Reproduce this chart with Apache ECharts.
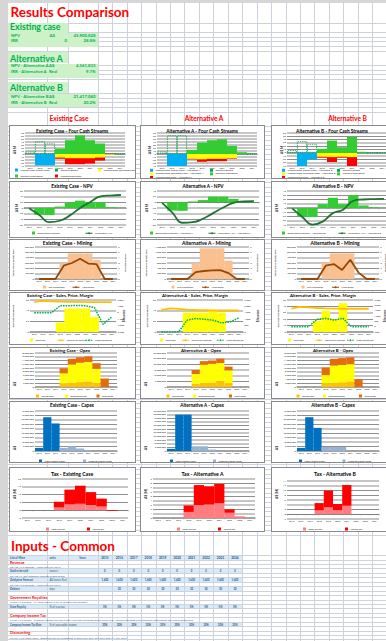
<!DOCTYPE html>
<html lang="en">
<head>
<meta charset="utf-8">
<title>Results Comparison</title>
<script src="https://cdn.jsdelivr.net/npm/echarts@6/dist/echarts.min.js"></script>
<style>
  html, body { margin: 0; padding: 0; }
  body { width: 386px; height: 641px; overflow: hidden; position: relative; background: #fff;
         font-family: Lato, "Open Sans", sans-serif; }
  .a { position: absolute; }
  .t { position: absolute; white-space: nowrap; }
  .panel { position: absolute; background: #fff; overflow: hidden; }
  .frame { position: absolute; left: 0; top: 0; right: 0; bottom: 0; border: 1.5px solid #8a8a8a;
           box-sizing: border-box; pointer-events: none; }
</style>
</head>
<body>
<script>
// ---------------- data ----------------
const years = ['2015','2016','2017','2018','2019','2020','2021','2022','2023','2024'];

// Four cash streams (A$ M)
const capCostsEx = [0,-38,-38,0,0,0,0,0,0,0];
const deficitEx  = [8,42,35,0,0,0,0,0,0,0];
const opCostsEx  = [0,0,0,-12,-14,-14,-14,-12,-2,0];
const opsCashEx  = [0,0,0,18,46,62,46,35,0,0];
const taxesEx    = [0,0,0,-4,-20,-20,-18,-10,1,0];

const capCostsA = [0,-40,-40,0,0,0,0,0,0,0];
const deficitA  = [8,62,62,0,0,0,0,0,0,0];
const opCostsA  = [0,0,0,-16,-18,-16,-16,-14,0,0];
const opsCashA  = [0,0,0,14,38,46,49,27,6,0];
const taxesA    = [0,0,0,-2,-8,-8,-8,-2,0,0];

const capCostsB = [0,-40,-20,0,0,0,0,0,0,0];
const deficitB  = [8,35,27,0,0,0,0,0,0,0];
const opCostsB  = [0,0,0,-12,-13,-12,-13,0,0,0];
const opsCashB  = [0,0,0,12,37,17,48,3,0,0];
const taxesB    = [0,0,0,-3,-15,-3,-27,0,0,0];

// NPV (A$ M)
const discCfEx = [-1,-24,-25,5,19,26,21,20,3,1];
const cumNpvEx = [-1,-25,-50,-45,-26,0,21,41,44,45.9];
const discCfA  = [-2,-29,-30,3,8,20,20,12,4,1];
const cumNpvA  = [-2,-36,-72,-70,-58,-38,-18,-2,3,4.6];
const discCfB  = [-1,-20,-21,9,24,9,30,6,2,0.4];
const cumNpvB  = [-1,-21,-39,-32,-12,-4,17,20,21,21.4];

// Mining: ore tonnes and head grade (g/t)
const oreEx   = [0,0,0,290000,480000,480000,480000,360000,0,0];
const gradeEx = [0,0,0,2.5,3.0,3.8,2.9,2.8,0,0];
const oreA    = [0,0,0,590000,1150000,1150000,1150000,690000,0,0];
const gradeA  = [0,0,0,1.3,1.5,1.6,1.65,1.1,0,0];
const oreB    = [0,0,0,300000,480000,480000,480000,0,0,0];
const gradeB  = [0,0,0,2.5,2.8,1.7,3.6,1.2,0,0];

// Sales, price, margin
const goldPrice = [1700,1850,1800,1750,1720,1700,1680,1680,1680,1680];
const soldEx   = [0,0,0,18,44,44,44,28,0,0];
const marginEx = [0,0,0,1100,1100,1150,1100,800,-1800,-650];
const soldA    = [0,0,0,36,36,36,41,36,0,0];
const marginA  = [0,0,0,920,1050,1000,920,710,790,1100];
const soldB    = [0,0,0,17,33,20,45,0,0,0];
const marginB  = [0,0,0,700,780,620,780,0,0,0];

// Opex (A$)
const miningCostEx = [0,0,0,1800000,2300000,2600000,3000000,2000000,0,0];
const procCostEx   = [0,0,0,5400000,9700000,10200000,10200000,7600000,0,0];
const fixedCostEx  = [0,0,0,2700000,2900000,2900000,3000000,3000000,4500000,0];
const miningCostA  = [0,0,0,3000000,3600000,4000000,5500000,3500000,0,0];
const procCostA    = [0,0,0,8400000,16200000,16400000,15600000,11200000,0,0];
const fixedCostA   = [0,0,0,3600000,3000000,3000000,3900000,3300000,0,0];
const miningCostB  = [0,0,0,2000000,2300000,2500000,3000000,0,0,0];
const procCostB    = [0,0,0,4300000,9000000,9200000,9100000,0,0,0];
const fixedCostB   = [0,0,0,4000000,3600000,3600000,3600000,4000000,0,0];

// Capex (A$)
const initialCapEx = [3500000,38000000,31000000,0,0,0,0,0,0,0];
const ongoingCapEx = [0,0,0,3500000,5500000,2800000,1000000,0,0,0];
const initialCapA  = [3000000,50000000,50000000,0,0,0,0,0,0,0];
const ongoingCapA  = [0,0,0,6500000,6500000,2000000,0,0,0,0];
const initialCapB  = [3500000,38000000,26000000,0,0,0,0,0,0,0];
const ongoingCapB  = [0,0,0,4500000,4500000,4500000,0,0,0,0];

// Tax (A$ M)
const royaltyEx   = [0,0,0,1.7,3.7,4.1,3.3,2.3,0,0];
const incomeTaxEx = [0,0,0,3.7,9.5,11.6,8.3,5.1,-0.5,0];
const royaltyA    = [0,0,0,1.4,3.0,3.1,3.4,1.2,0.4,0];
const incomeTaxA  = [0,0,0,1.5,4.6,4.2,4.45,0.8,0,0];
const royaltyB    = [0,0,0,1.6,2.9,1.7,3.6,0,0,0];
const incomeTaxB  = [0,0,0,3.1,7.1,2.6,8.7,0,0,0];

// Input table
const inputYears   = ['2015','2016','2017','2018','2019','2020','2021','2022','2023','2024'];
const goldToSell   = ['0','0','0','0','0','0','0','0','0','0'];
const priceInputs  = ['1,600','1,600','1,600','1,600','1,600','1,600','1,600','1,600','1,600','1,600'];
const debtorDays   = ['','30','30','30','30','30','30','30','30','30'];
const royaltyRates = ['5%','5%','5%','5%','5%','5%','5%','5%','5%','5%'];
const taxRates     = ['30%','30%','30%','30%','30%','30%','30%','30%','30%','30%'];

// ---------------- worksheet backdrop ----------------
const LINE = '#cdd3de';
function box(l, t, w, h, bg) {
  const d = document.createElement('div');
  d.className = 'a';
  d.style.cssText = `left:${l}px;top:${t}px;width:${w}px;height:${h}px;background:${bg}`;
  document.body.appendChild(d);
  return d;
}
function txt(x, base, s, size, color, bold, align) {
  const d = document.createElement('div');
  d.className = 't';
  d.textContent = s;
  d.style.fontSize = size + 'px';
  d.style.lineHeight = size + 'px';
  d.style.color = color;
  d.style.fontWeight = bold ? '700' : '400';
  d.style.top = (base - 0.887 * size) + 'px';
  if (align === 'right') { d.style.right = (386 - x) + 'px'; d.style.textAlign = 'right'; }
  else if (align === 'center') { d.style.left = (x - 60) + 'px'; d.style.width = '120px'; d.style.textAlign = 'center'; }
  else d.style.left = x + 'px';
  document.body.appendChild(d);
}

// horizontal cell borders
const skipRows = [[0, 22], [23, 31.5], [51, 63.5], [80, 92.5], [112.5, 124]];
for (let y = 22.5; y < 537; y += 4.7) {
  if (skipRows.some(([a, b]) => y > a && y < b)) continue;
  box(0, y, 386, 1, LINE);
}
const ROW0 = 555.2, ROWH = 4.43;
for (let y = ROW0; y < 641; y += ROWH) box(0, y, 386, 1, LINE);

// shaded input rows
[0, 3, 5, 7, 11, 15].forEach(i => box(8, ROW0 + 1 + i * ROWH, 234, ROWH - 1, '#d8eaf8'));

// vertical cell borders
[47, 68].forEach(x => box(x, 2.5, 1, 639, LINE));
for (let x = 97.7; x < 386; x += 14.45) box(x, 2.5, 1, 639, LINE);

// window chrome
box(0, 0, 386, 2.5, '#d6d6d6');
box(0, 0, 7.5, 641, '#d6d6d6');

// results block
const GREEN = '#00b050', GBG = '#cdf2c8';
box(8, 22.5, 60, 10, GBG); box(8, 32.5, 90, 14, GBG);
box(8, 52, 60, 11, GBG);   box(8, 63.5, 90, 14, GBG);
box(8, 82, 60, 11, GBG);   box(8, 93.5, 90, 13.5, GBG);

txt(10.5, 18.3, 'Results Comparison', 13.5, '#ff0000', true);
txt(10, 30.8, 'Existing case', 8.8, GREEN, true);
txt(11, 37.5, 'NPV', 4.3, GREEN, true);
txt(49.5, 37.5, 'A$', 4.3, GREEN, true);
txt(95.5, 37.5, '45,900,828', 4.3, GREEN, true, 'right');
txt(11, 43.3, 'IRR', 4.3, GREEN, true);
txt(67, 43.3, '0', 4.3, GREEN, true, 'right');
txt(95.5, 43.3, '28.8%', 4.3, GREEN, true, 'right');

txt(10, 61.5, 'Alternative A', 9, GREEN, true);
txt(11, 68, 'NPV - Alternative A', 4.3, GREEN, true);
txt(49, 68, 'A$', 4.3, GREEN, true);
txt(95.5, 68, '4,561,833', 4.3, GREEN, true, 'right');
txt(11, 73.8, 'IRR - Alternative A', 4.3, GREEN, true);
txt(49, 73.8, 'Real', 4.3, GREEN, true);
txt(95.5, 73.8, '9.7%', 4.3, GREEN, true, 'right');

txt(10, 91.2, 'Alternative B', 9, GREEN, true);
txt(11, 98.7, 'NPV - Alternative B', 4.3, GREEN, true);
txt(49, 98.7, 'A$', 4.3, GREEN, true);
txt(95.5, 98.7, '21,417,060', 4.3, GREEN, true, 'right');
txt(11, 104.5, 'IRR - Alternative B', 4.3, GREEN, true);
txt(49, 104.5, 'Real', 4.3, GREEN, true);
txt(95.5, 104.5, '20.2%', 4.3, GREEN, true, 'right');

txt(69, 121, 'Existing Case', 6.6, '#ff0000', true, 'center');
txt(204, 121, 'Alternative A', 6.6, '#ff0000', true, 'center');
txt(347.5, 121, 'Alternative B', 6.6, '#ff0000', true, 'center');

// inputs block
box(0, 537, 386, 18, '#fff');
box(0, 537, 7.5, 18, '#d6d6d6');
[47, 68].forEach(x => box(x, 537, 1, 18, LINE));
for (let x = 97.7; x < 386; x += 14.45) box(x, 537, 1, 18, LINE);
txt(11, 551.5, 'Inputs - Common', 13.5, '#ff0000', true);

const BLUE = '#2e5c8a';
const rowBase = i => ROW0 + 1 + i * ROWH + 3.3;
const colC = j => 104.9 + 14.45 * j;
txt(10, rowBase(0), 'Life of Mine', 2.8, BLUE, true);
txt(49.5, rowBase(0), 'units', 2.8, BLUE, true);
txt(79, rowBase(0), 'Years', 2.8, BLUE, true);
inputYears.forEach((s, j) => txt(colC(j), rowBase(0), s, 3.2, BLUE, true, 'center'));

txt(10, rowBase(1), 'Revenue', 3.8, '#ff0000', true);
txt(10, rowBase(2), '03 Aug 16 C Steinetz - "Sales Plan July 2016"', 2.6, BLUE, false);
txt(10, rowBase(3), 'Gold to be sold', 2.7, BLUE, true);
txt(49.5, rowBase(3), 'ounces', 2.7, BLUE, false);
goldToSell.forEach((s, j) => txt(colC(j), rowBase(3), s, 2.7, BLUE, true, 'center'));
txt(10, rowBase(4), '03 Aug 16 ABC Company forecast of gold prices', 2.6, BLUE, false);
txt(10, rowBase(5), 'Gold price Forecast', 2.7, BLUE, true);
txt(49.5, rowBase(5), 'A$/ounce Real', 2.7, BLUE, false);
priceInputs.forEach((s, j) => txt(colC(j), rowBase(5), s, 2.7, BLUE, true, 'center'));
txt(10, rowBase(6), '03 Aug 16 C Steinetz - "Sales Plan July 2016"', 2.6, BLUE, false);
txt(10, rowBase(7), 'Debtors', 2.7, BLUE, true);
txt(49.5, rowBase(7), 'days', 2.7, BLUE, false);
debtorDays.forEach((s, j) => s && txt(colC(j), rowBase(7), s, 2.7, BLUE, true, 'center'));

txt(10, rowBase(9), 'Government Royalties', 3.8, '#ff0000', true);
txt(10, rowBase(10), '3 June 16 E Trophy - SA State Royalty is 5% of revenue paid monthly', 2.6, BLUE, false);
txt(10, rowBase(11), 'State Royalty', 2.7, BLUE, true);
txt(49.5, rowBase(11), '% of revenue', 2.7, BLUE, false);
royaltyRates.forEach((s, j) => txt(colC(j), rowBase(11), s, 2.7, BLUE, true, 'center'));

txt(10, rowBase(13), 'Company Income Tax', 3.8, '#ff0000', true);
txt(10, rowBase(14), '3 June 16 E Trophy - Company income tax rate is 30%. The cash payment occurs in the year. Assume operating cost cashflows approximate the cost of goods sold.', 2.6, BLUE, false);
txt(10, rowBase(15), 'Company Income Tax Rate', 2.7, BLUE, true);
txt(49.5, rowBase(15), '% of assessable income', 2.7, BLUE, false);
taxRates.forEach((s, j) => txt(colC(j), rowBase(15), s, 2.7, BLUE, true, 'center'));

txt(10, rowBase(17), 'Discounting', 3.8, '#ff0000', true);
txt(10, rowBase(18), '27 July 16 E Kaiser email - Discount rate for investment in gold is 8% Real. The base date is 1 July 2016', 2.6, BLUE, false);

// ---------------- charts ----------------
const FONT = 'Lato, "Open Sans", sans-serif';
const K = 2;                       // charts are drawn at 2x and scaled down
const k = v => v * K;
const fmt = v => v.toLocaleString('en-US');
const GRIDC = '#7a7a7a';

const COLS = [{x: 9, w: 127}, {x: 140, w: 125}, {x: 271, w: 125}];
const ROWS = [{y: 125, h: 54}, {y: 181, h: 57}, {y: 239, h: 52}, {y: 292, h: 53},
              {y: 347, h: 52}, {y: 401, h: 62}, {y: 467, h: 65}];

function makePanel(r, c) {
  const {x, w} = COLS[c], {y, h} = ROWS[r];
  const p = document.createElement('div');
  p.className = 'panel';
  p.style.cssText = `left:${x}px;top:${y}px;width:${w}px;height:${h}px`;
  const host = document.createElement('div');
  host.style.cssText = `position:absolute;left:0;top:0;width:${w * K}px;height:${h * K}px;` +
                       `transform:scale(${1 / K});transform-origin:0 0`;
  p.appendChild(host);
  const frame = document.createElement('div');
  frame.className = 'frame';
  p.appendChild(frame);
  document.body.appendChild(p);
  return echarts.init(host, null, {renderer: 'svg'});
}

function G(l, t, w, h) {
  return {left: k(l), top: k(t), width: k(w), height: k(h), containLabel: false, outerBoundsMode: 'none'};
}
function titleG(text, cx, top, size) {
  return {type: 'text', x: k(cx), y: k(top), z: 10,
    style: {text, fontSize: k(size), fontWeight: 'bold', fontFamily: FONT, fill: '#000',
            align: 'center', verticalAlign: 'top'}};
}
function vName(text, cx, cy, size) {
  return {type: 'text', x: k(cx), y: k(cy), rotation: Math.PI / 2, z: 10,
    style: {text, fontSize: k(size), fontWeight: 'bold', fontFamily: FONT, fill: '#262626',
            align: 'center', verticalAlign: 'middle'}};
}
function yAx(min, max, interval, extra) {
  return Object.assign({
    type: 'value', min, max, interval,
    axisLine: {show: false}, axisTick: {show: false},
    axisLabel: {fontSize: k(2.4), fontFamily: FONT, color: '#222', margin: k(1.2), formatter: fmt},
    splitLine: {show: true, lineStyle: {color: GRIDC, width: k(0.85)}}
  }, extra || {});
}
function xAx(onZero) {
  return {
    type: 'category', data: years,
    axisLine: {show: true, onZero: !!onZero, lineStyle: {color: GRIDC, width: k(0.85)}},
    axisTick: {show: true, length: k(1.2), lineStyle: {color: GRIDC, width: k(0.4)}},
    axisLabel: {fontSize: k(2.2), fontFamily: FONT, color: '#222', margin: k(1), interval: 0}
  };
}
function bar(name, data, color, stack, yi) {
  return {name, type: 'bar', data, stack, yAxisIndex: yi || 0, barCategoryGap: '0%', barGap: '0%',
          itemStyle: {color}};
}
function line(name, data, color, width, yi, dashed, smooth) {
  return {name, type: 'line', data, yAxisIndex: yi || 0, symbol: 'none', smooth: !!smooth, z: 5,
          lineStyle: {color, width: k(width), type: dashed ? [k(1.6), k(1)] : 'solid'},
          itemStyle: {color}};
}
function legends(items) {
  return items.map(([name, left, top, kind, color]) => {
    const isLine = kind === 'line';
    const entry = color ? {name, icon: 'rect', itemStyle: {color, borderWidth: 0}} : name;
    return {
      data: [entry], left: k(left), top: k(top), padding: 0, itemGap: 0, selectedMode: false,
      itemWidth: k(isLine ? 7 : 3), itemHeight: k(isLine ? 2 : 3),
      icon: isLine ? undefined : 'rect',
      textStyle: {fontSize: k(2.4), fontFamily: FONT, color: '#222'}
    };
  });
}
function draw(r, c, o) {
  const ch = makePanel(r, c);
  ch.setOption({
    animation: false,
    grid: o.grid,
    xAxis: xAx(o.onZero),
    yAxis: o.yAxis,
    series: o.series,
    legend: legends(o.legend),
    graphic: o.graphic
  });
}

// Row 1 - four cash streams
function cashStreams(c, title, tx, names, d, yr, gl, yn, leg) {
  draw(0, c, {
    grid: G(gl, 8, 100, 33), onZero: true,
    yAxis: yAx(yr[0], yr[1], yr[2]),
    graphic: [titleG(title, tx, 3, 4.8), vName('A$ M', yn, 25, 3.4)],
    legend: leg,
    series: [
      bar(names[0], d[0], '#00b0f0', 'cs'),
      {name: names[1], type: 'bar', stack: 'cs', data: d[1], barCategoryGap: '0%',
       itemStyle: {color: 'rgba(0,0,0,0)', borderColor: '#00a040', borderWidth: k(0.8), borderType: [k(1.4), k(0.9)]}},
      bar(names[2], d[2], '#ffff00', 'cs'),
      bar(names[3], d[3], '#33cc33', 'cs'),
      bar(names[4], d[4], '#ff0000', 'cs')
    ]
  });
}
const csEx = ['Undiscounted Capital Costs', 'Cashflow Deficit', 'Undiscounted Operating Costs', 'Cashflow Operations', 'Undiscounted Taxes'];
const csA = ['Undiscounted Capital Costs - Alternative A', 'Cashflow Deficit', 'Undiscounted Operating Costs - Alternative A', 'Cashflow Operations', 'Undiscounted Taxes - Alternative A'];
const csB = ['Undiscounted Capital Costs - Alternative B', 'Cashflow Deficit', 'Undiscounted Operating Costs - Alternative B', 'Cashflow Operations', 'Undiscounted Taxes - Alternative B'];
cashStreams(0, 'Existing Case - Four Cash Streams', 63, csEx,
  [capCostsEx, deficitEx, opCostsEx, opsCashEx, taxesEx], [-40, 70, 10], 16, 6,
  [[csEx[0], 6, 43.5], [csEx[1], 46, 43.5, 'rect', '#00b050'], [csEx[2], 89, 43.5], [csEx[3], 6, 49.5], [csEx[4], 46, 49.5]]);
cashStreams(1, 'Alternative A - Four Cash Streams', 62, csA,
  [capCostsA, deficitA, opCostsA, opsCashA, taxesA], [-40, 70, 10], 17, 10,
  [[csA[0], 10, 43.8], [csA[1], 70, 43.8, 'rect', '#00b050'], [csA[2], 10, 47.4], [csA[3], 70, 47.4], [csA[4], 10, 51]]);
cashStreams(2, 'Alternative B - Four Cash Streams', 61, csB,
  [capCostsB, deficitB, opCostsB, opsCashB, taxesB], [-40, 60, 10], 16, 11,
  [[csB[0], 11, 43.8], [csB[1], 66, 43.8, 'rect', '#00b050'], [csB[2], 11, 47.4], [csB[3], 66, 47.4], [csB[4], 11, 51]]);

// Row 2 - NPV
function npv(c, title, tx, names, bars, cum, yr, gl, yn, leg) {
  draw(1, c, {
    grid: G(gl, 10, 102, 34), onZero: true,
    yAxis: yAx(yr[0], yr[1], yr[2]),
    graphic: [titleG(title, tx, 3.2, 4.7), vName('A$ M', yn, 27, 3.4)],
    legend: [[names[0], leg[0], 50.5], [names[1], leg[1], 51, 'line']],
    series: [bar(names[0], bars, '#33cc33'), line(names[1], cum, '#1e7232', 1.8, 0, false, true)]
  });
}
npv(0, 'Existing Case - NPV', 63, ['Discounted Cashflow', 'Cumulative NPV'], discCfEx, cumNpvEx, [-60, 60, 20], 15, 8, [23, 76]);
npv(1, 'Alternative A - NPV', 63, ['Discounted Cashflow - Alternative A', 'Cumulative NPV - Alternative A'], discCfA, cumNpvA, [-80, 40, 20], 17, 7, [10, 68]);
npv(2, 'Alternative B - NPV', 62, ['Discounted Cashflow - Alternative B', 'Cumulative NPV - Alternative B'], discCfB, cumNpvB, [-40, 40, 10], 16, 6, [11, 67]);

// Row 3 - mining
function mining(c, title, tx, ore, grade, oreMax, oreStep, gl, yn, yr, leg) {
  draw(2, c, {
    grid: G(gl, 8, 82, 32),
    yAxis: [yAx(0, oreMax, oreStep), yAx(0, 6, 1, {position: 'right', splitLine: {show: false}})],
    graphic: [titleG(title, tx, 1, 5), vName('Tonnes Ore or Ounces Gold', yn, 24, 2.2),
              vName('Au Grade g/Tonne', yr, 24, 2.2)],
    legend: [['Ore Production', leg[0], 46.5], ['Head grade', leg[1], 47, 'line']],
    series: [bar('Ore Production', ore, '#fac090'), line('Head grade', grade, '#984806', 1.8, 1)]
  });
}
mining(0, 'Existing Case - Mining', 58.5, oreEx, gradeEx, 600000, 100000, 26, 4, 116, [34, 63]);
mining(1, 'Alternative A - Mining', 66.5, oreA, gradeA, 1200000, 200000, 27, 6, 117, [31.5, 61.5]);
mining(2, 'Alternative B - Mining', 64, oreB, gradeB, 600000, 100000, 26, 4, 114, [30.5, 60.5]);

// Row 4 - sales, price, margin
function sales(c, title, tx, sold, margin, left, right, gl, yn, yr, leg) {
  draw(3, c, {
    grid: G(gl, 8, 86, 32),
    yAxis: [yAx(left[0], left[1], left[2]),
            yAx(right[0], right[1], right[2], {position: 'right', splitLine: {show: false}})],
    graphic: [titleG(title, tx, 1.5, 4.3), vName('Gold Sold (000 ounces)', yn, 24, 2.2),
              vName('$/ounce', yr, 24, 3.4)],
    legend: [['Gold sold', leg[0], 46.5], ['Gold price forecast', leg[1], 47, 'line'],
             ['Profit margin/oz', leg[2], 47, 'line']],
    series: [bar('Gold sold', sold, '#ffff00'),
             line('Gold price forecast', goldPrice, '#ffc000', 1.8, 1),
             line('Profit margin/oz', margin, '#00b050', 1.5, 1, true)]
  });
}
sales(0, 'Existing Case - Sales, Price, Margin', 51, soldEx, marginEx, [0, 60, 20], [-3000, 2000, 1000], 21, 4, 115, [21, 48, 76]);
sales(1, 'Alternative A - Sales, Price, Margin', 55, soldA, marginA, [0, 60, 20], [0, 2500, 500], 17, 6.5, 118, [20, 41.5, 76.5]);
sales(2, 'Alternative B - Sales, Price, Margin', 52, soldB, marginB, [0, 50, 10], [-500, 2500, 500], 16, 7, 114, [17, 44, 75.5]);

// Row 5 - opex
function opex(c, title, tx, m, p, f, max, step, gl, leg) {
  draw(4, c, {
    grid: G(gl, 6, 82, 34),
    yAxis: yAx(0, max, step),
    graphic: [titleG(title, tx, 0.8, 4.4), vName('A$', 6, 37, 3.4)],
    legend: [['mining cost', leg[0], 47.5], ['processing cost', leg[1], 47.5], ['fixed costs', leg[2], 47.5]],
    series: [bar('mining cost', m, '#ffc000', 'op'), bar('processing cost', p, '#ffff00', 'op'),
             bar('fixed costs', f, '#e46c0a', 'op')]
  });
}
opex(0, 'Existing Case - Opex', 61, miningCostEx, procCostEx, fixedCostEx, 18000000, 2000000, 26, [27, 56, 87.5]);
opex(1, 'Alternative A - Opex', 61, miningCostA, procCostA, fixedCostA, 30000000, 5000000, 27, [26.5, 53, 89]);
opex(2, 'Alternative B - Opex', 62, miningCostB, procCostB, fixedCostB, 18000000, 2000000, 26, [25.5, 52, 88]);

// Row 6 - capex
function capex(c, title, tx, ini, ong, max, gl, leg) {
  draw(5, c, {
    grid: G(gl, 10, 82, 40),
    yAxis: yAx(0, max, 5000000),
    graphic: [titleG(title, tx, 2, 4.6), vName('A$', 6, 47, 3.4)],
    legend: [['Initial Capital Costs', leg[0], 58.5], ['Ongoing Capital Costs', leg[1], 58.5]],
    series: [bar('Initial Capital Costs', ini, '#0070c0', 'cx'), bar('Ongoing Capital Costs', ong, '#95b3d7', 'cx')]
  });
}
capex(0, 'Existing Case - Capex', 63, initialCapEx, ongoingCapEx, 45000000, 26, [30, 74]);
capex(1, 'Alternative A - Capex', 62, initialCapA, ongoingCapA, 55000000, 27, [30, 73]);
capex(2, 'Alternative B - Capex', 62, initialCapB, ongoingCapB, 45000000, 26, [28, 71.5]);

// Row 7 - tax
function tax(c, title, tx, roy, inc, yr, gl, gw, gt, gh, leg) {
  draw(6, c, {
    grid: G(gl, gt, gw, gh), onZero: true,
    yAxis: yAx(yr[0], yr[1], yr[2]),
    graphic: [titleG(title, tx, 4.3, 5.1), vName('A$ (M)', 6, 27, 3.4)],
    legend: [['State Royalty', leg[0], 60.5], ['Income Tax', leg[1], 60.5]],
    series: [bar('State Royalty', roy, '#ff7c80', 'tx'), bar('Income Tax', inc, '#ff0000', 'tx')]
  });
}
tax(0, 'Tax - Existing Case', 63, royaltyEx, incomeTaxEx, [-5, 20, 5], 13, 106, 12, 39, [37, 78]);
tax(1, 'Tax - Alternative A', 62.5, royaltyA, incomeTaxA, [0, 9, 1], 13, 102, 12, 39, [37, 78]);
tax(2, 'Tax - Alternative B', 64, royaltyB, incomeTaxB, [-2, 14, 2], 16, 92, 14, 38, [32, 74]);
</script>
</body>
</html>
